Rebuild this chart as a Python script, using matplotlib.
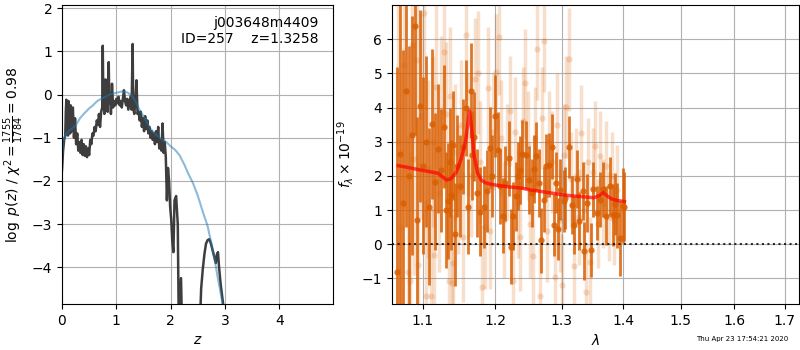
import matplotlib
matplotlib.use("Agg")
import matplotlib.pyplot as plt
from matplotlib.ticker import NullLocator, FixedLocator, FixedFormatter

# ---------------- left panel: log p(z) ----------------
z_pz = [0.00, 0.02, 0.04, 0.06, 0.07, 0.08, 0.09, 0.10, 0.11, 0.12, 0.13, 0.14, 0.15, 0.16,
        0.18, 0.20, 0.22, 0.24, 0.26, 0.28, 0.30, 0.32, 0.34, 0.36, 0.38, 0.40, 0.42, 0.44,
        0.46, 0.48, 0.50, 0.52, 0.54, 0.56, 0.58, 0.60, 0.62, 0.64, 0.66, 0.68, 0.70, 0.72,
        0.74, 0.75, 0.76, 0.78, 0.80, 0.81, 0.83, 0.84, 0.86, 0.87, 0.89, 0.90, 0.92, 0.94,
        0.96, 0.98, 1.00, 1.02, 1.04, 1.06, 1.08, 1.10, 1.12, 1.14, 1.16, 1.18, 1.20, 1.22,
        1.24, 1.26, 1.28, 1.30, 1.31, 1.33, 1.35, 1.37, 1.39, 1.41, 1.43, 1.45, 1.47, 1.49,
        1.51, 1.53, 1.55, 1.57, 1.59, 1.61, 1.63, 1.65, 1.67, 1.69, 1.71, 1.73, 1.75, 1.77,
        1.79, 1.81, 1.83, 1.85, 1.87, 1.89, 1.91, 1.93, 1.95, 1.97, 1.99, 2.01, 2.03, 2.05,
        2.07, 2.10, 2.13, 2.15, 2.17, 2.19, 2.21, 2.25, 2.40, 2.52, 2.56, 2.59, 2.62, 2.65,
        2.68, 2.71, 2.74, 2.77, 2.80, 2.83, 2.85, 2.87, 2.89, 2.92, 2.96, 3.00, 3.10]
logp = [-1.75, -1.30, -1.05, -0.95, -0.40, -0.12, -0.70, -0.55, -0.95, -0.15, -0.80, -0.30, -0.90, -0.25,
        -0.85, -0.30, -1.00, -0.55, -1.15, -0.90, -1.30, -1.10, -1.35, -1.05, -1.40, -1.15, -1.42, -1.20,
        -1.45, -1.25, -1.40, -1.05, -1.15, -0.90, -0.95, -0.75, -0.85, -0.60, -0.70, -0.45, -0.75, -0.40,
        -0.30, 1.13, -0.10, -0.45, 0.35, -0.30, 0.05, -0.40, 0.75, -0.20, -0.10, -0.45, 0.25, -0.30,
        -0.15, -0.25, -0.10, -0.20, -0.05, -0.25, -0.15, -0.30, -0.10, 0.10, -0.15, -0.25, -0.10, -0.35,
        -0.20, -0.05, -0.35, 1.17, -0.30, -0.45, -0.15, 0.33, -0.45, -0.40, -0.60, -0.40, -0.75, -0.55,
        -0.85, -0.50, -0.80, -0.60, -0.90, -0.75, -1.00, -0.85, -1.05, -0.90, -1.15, -0.85, -1.10, -0.75,
        -1.25, -1.05, -1.30, -0.67, -1.35, -1.10, -1.45, -2.45, -1.70, -2.00, -2.60, -2.90, -3.40, -3.65,
        -2.45, -2.35, -3.00, -5.50, -4.90, -4.25, -5.50, -8.00, -9.00, -6.00, -4.50, -4.05, -3.70, -3.45,
        -3.37, -3.35, -3.45, -3.60, -3.75, -3.90, -3.70, -3.65, -4.00, -4.40, -4.80, -5.30, -7.00]

z_prior = [0.00, 0.03, 0.08, 0.15, 0.25, 0.33, 0.40, 0.50, 0.57, 0.65, 0.75, 0.88, 1.00, 1.10,
           1.20, 1.28, 1.35, 1.43, 1.52, 1.62, 1.72, 1.82, 1.92, 2.00, 2.08, 2.16, 2.25, 2.33,
           2.41, 2.50, 2.60, 2.68, 2.74, 2.80, 2.86, 2.92, 2.96, 3.05]
logp_prior = [-1.45, -1.05, -0.90, -0.82, -0.72, -0.55, -0.45, -0.32, -0.25, -0.15, -0.08, 0.00, 0.04, 0.07,
              0.05, -0.02, -0.15, -0.36, -0.55, -0.78, -0.92, -1.02, -1.10, -1.20, -1.28, -1.40, -1.62, -1.85,
              -2.05, -2.35, -2.75, -3.05, -3.40, -3.75, -4.20, -4.60, -4.90, -5.40]

# ---------------- right panel: spectrum ----------------
lam_a = [1.066, 1.070, 1.074, 1.078, 1.082, 1.086, 1.090, 1.093, 1.096, 1.100, 1.104, 1.108, 1.112, 1.116,
         1.120, 1.124, 1.128, 1.131, 1.134, 1.136, 1.138, 1.141, 1.143, 1.146, 1.150, 1.154, 1.158, 1.162,
         1.165, 1.167, 1.170, 1.174, 1.179, 1.184, 1.188, 1.192, 1.196, 1.200, 1.204, 1.207, 1.211, 1.215,
         1.220, 1.223, 1.226, 1.230, 1.233, 1.236, 1.240, 1.245, 1.250, 1.255, 1.258, 1.261, 1.265, 1.268,
         1.272, 1.275, 1.280, 1.285, 1.288, 1.291, 1.294, 1.298, 1.303, 1.306, 1.311, 1.316, 1.319, 1.324,
         1.328, 1.334, 1.336, 1.341, 1.347, 1.350, 1.356, 1.361, 1.367, 1.372, 1.378, 1.383, 1.386, 1.390,
         1.395, 1.399, 1.402]
flux_a = [-0.82, 2.64, 1.20, 4.50, 2.00, 3.19, 6.40, 0.71, 4.05, 2.30, 3.00, 1.10, 3.52, 1.83,
          2.80, 2.17, 3.44, 1.00, 1.26, 2.40, 1.44, 2.90, 0.29, 2.29, 1.70, 2.86, 3.98, 1.10,
          4.50, 2.60, 3.15, 1.50, 0.95, 1.08, 1.55, 2.81, 2.00, 3.76, 2.77, 1.69, 0.83, 1.79,
          2.52, -0.07, 0.83, 1.40, 2.00, 2.18, 2.63, 2.61, 1.88, 1.49, 2.20, 2.57, 1.80, 0.12,
          1.30, 2.29, 2.32, 2.86, 0.57, 1.80, 0.44, 1.60, 1.26, 1.35, 2.84, 1.15, 0.56, 1.90,
          0.68, 1.56, -0.19, 1.20, -0.17, 1.61, 0.91, 1.30, 1.61, 0.84, 1.69, 0.85, 1.18, 0.85,
          0.17, 1.13, 1.10]
err_a = [6.0, 5.0, 4.5, 4.0, 3.8, 3.5, 3.2, 3.0, 2.8, 2.6, 2.5, 2.3, 2.2, 2.0,
         1.9, 1.8, 1.8, 1.7, 1.7, 1.6, 1.6, 1.6, 1.5, 1.5, 1.5, 1.4, 1.4, 1.4,
         1.4, 1.3, 1.3, 1.3, 1.3, 1.2, 1.2, 1.2, 1.2, 1.2, 1.1, 1.1, 1.1, 1.1,
         1.1, 1.1, 1.0, 1.0, 1.0, 1.0, 1.0, 1.0, 1.0, 1.0, 1.0, 1.0, 1.0, 0.95,
         0.95, 0.95, 0.95, 0.95, 0.9, 0.9, 0.9, 0.9, 0.9, 0.9, 0.9, 0.85, 0.85, 0.85,
         0.85, 0.85, 0.85, 0.85, 0.8, 0.8, 0.8, 0.8, 0.8, 0.85, 0.85, 0.9, 0.9, 0.95,
         1.1, 1.1, 1.0]

lam_b = [1.068, 1.072, 1.076, 1.080, 1.083, 1.086, 1.089, 1.092, 1.094, 1.097, 1.102, 1.104, 1.107, 1.111,
         1.113, 1.115, 1.118, 1.122, 1.125, 1.128, 1.131, 1.135, 1.137, 1.139, 1.141, 1.144, 1.148, 1.152,
         1.155, 1.159, 1.162, 1.166, 1.171, 1.175, 1.178, 1.181, 1.185, 1.190, 1.193, 1.197, 1.201, 1.205,
         1.209, 1.213, 1.217, 1.221, 1.226, 1.229, 1.233, 1.237, 1.241, 1.244, 1.248, 1.252, 1.256, 1.259,
         1.262, 1.267, 1.270, 1.273, 1.277, 1.281, 1.285, 1.289, 1.293, 1.297, 1.301, 1.304, 1.307, 1.311,
         1.315, 1.319, 1.323, 1.327, 1.330, 1.335, 1.339, 1.342, 1.345, 1.350, 1.354, 1.358, 1.362, 1.366,
         1.371, 1.376, 1.381, 1.385, 1.390]
flux_b = [3.00, 0.50, 5.25, -0.82, -1.09, 5.83, 2.50, 5.40, -0.62, 3.74, 6.76, -1.51, 2.20, -1.53,
          3.00, -0.32, 4.60, 1.50, 3.90, 5.62, 3.81, -1.09, 4.35, -1.14, -0.56, 2.70, 1.60, 3.50,
          0.20, 6.13, 3.20, 2.00, 4.83, 5.02, 2.40, -1.24, 0.50, 4.57, 0.39, 3.30, 5.05, 6.06,
          3.10, 0.70, 2.40, 3.90, -1.09, 3.30, 1.20, 0.22, 3.60, 4.71, 2.90, 0.60, -0.34, 3.10,
          5.71, -1.53, 3.70, 5.95, 0.40, 3.00, 2.40, -0.95, 3.50, 0.70, -1.19, 2.60, 4.01, 5.41,
          1.90, -0.65, 2.00, 0.80, 3.25, 1.00, -1.39, 2.40, -0.51, 2.10, 2.88, 0.60, 2.59, 1.20,
          2.30, 0.80, 2.00, 0.70, 1.60]
err_b = [5.0, 4.5, 4.2, 4.0, 3.8, 3.6, 3.4, 3.2, 3.0, 3.0, 2.8, 2.8, 2.6, 2.6,
         2.5, 2.4, 2.4, 2.3, 2.2, 2.2, 2.1, 2.1, 2.0, 2.0, 2.0, 2.0, 1.9, 1.9,
         1.9, 1.9, 1.8, 1.8, 1.8, 1.8, 1.8, 1.8, 1.8, 1.8, 1.7, 1.7, 1.7, 1.7,
         1.7, 1.7, 1.7, 1.6, 1.6, 1.6, 1.6, 1.6, 1.6, 1.6, 1.6, 1.6, 1.5, 1.5,
         1.5, 1.5, 1.5, 1.5, 1.5, 1.5, 1.5, 1.5, 1.5, 1.5, 1.5, 1.5, 1.5, 1.5,
         1.4, 1.4, 1.4, 1.4, 1.4, 1.4, 1.4, 1.3, 1.3, 1.3, 1.3, 1.3, 1.3, 1.3,
         1.3, 1.3, 1.3, 1.3, 1.3]

lam_model = [1.068, 1.080, 1.095, 1.110, 1.120, 1.126, 1.132, 1.138, 1.145, 1.152, 1.158, 1.1635, 1.166,
             1.170, 1.175, 1.180, 1.186, 1.195, 1.205, 1.220, 1.240, 1.252, 1.270, 1.290, 1.303, 1.320,
             1.340, 1.351, 1.360, 1.367, 1.372, 1.380, 1.390, 1.402]
flux_model = [2.30, 2.25, 2.18, 2.12, 2.08, 1.98, 1.88, 1.92, 2.10, 2.50, 3.00, 3.90, 3.50,
              2.60, 2.08, 1.88, 1.80, 1.75, 1.72, 1.68, 1.64, 1.59, 1.54, 1.48, 1.44, 1.41,
              1.38, 1.36, 1.42, 1.51, 1.43, 1.33, 1.28, 1.25]

lam_ticks = [1.1, 1.2, 1.3, 1.4, 1.5, 1.6, 1.7]
lam_ticklabels = ['1.1', '1.2', '1.3', '1.4', '1.5', '1.6', '1.7']

title_text = 'j003648m4409\nID=257    z=1.3258'
stamp_text = 'Thu Apr 23 17:54:21 2020'

fig = plt.figure(figsize=(8, 3.5), dpi=100)

ax1 = fig.add_axes([0.0775, 0.1314, 0.339, 0.854])
ax1.plot(z_pz, logp, color='#333333', lw=1.8, alpha=0.95)
ax1.plot(z_prior, logp_prior, color='#1f77b4', lw=1.5, alpha=0.5)
ax1.set_xlim(0, 4.99)
ax1.set_ylim(-4.85, 2.07)
ax1.set_xticks([0, 1, 2, 3, 4])
ax1.set_yticks([-4, -3, -2, -1, 0, 1, 2])
ax1.set_xlabel('$z$')
ax1.set_ylabel(r'$\log\ p(z)$' + ' / ' + r'$\chi^2=\frac{1755}{1784}=0.98$')
ax1.grid(True)
ax1.text(0.945, 0.965, title_text, ha='right', va='top', transform=ax1.transAxes, fontsize=10)

ax2 = fig.add_axes([0.49, 0.1314, 0.509, 0.854])
ax2.errorbar(lam_b, flux_b, yerr=err_b, fmt='o', color='#d95f02', alpha=0.2,
             markersize=4.5, elinewidth=2.5, markeredgewidth=0, capsize=0)
ax2.errorbar(lam_a, flux_a, yerr=err_a, fmt='o', color='#d95f02', alpha=0.85,
             markersize=4.5, elinewidth=2.0, markeredgewidth=0, capsize=0)
ax2.plot(lam_model, flux_model, color='r', lw=2.5, alpha=0.7, zorder=5)
ax2.axhline(0, color='k', ls=':', lw=1.5, alpha=0.8, zorder=6)
ax2.set_xscale('log')
ax2.set_xlim(1.06, 1.73)
ax2.set_ylim(-1.75, 7.0)
ax2.xaxis.set_major_locator(FixedLocator(lam_ticks))
ax2.xaxis.set_major_formatter(FixedFormatter(lam_ticklabels))
ax2.xaxis.set_minor_locator(NullLocator())
ax2.set_yticks([-1, 0, 1, 2, 3, 4, 5, 6])
ax2.set_xlabel(r'$\lambda$')
ax2.set_ylabel(r'$f_\lambda\times 10^{-19}$')
ax2.grid(True)

fig.text(0.985, 0.022, stamp_text, ha='right', va='bottom', fontsize=5)

fig.savefig('out.png', dpi=100)
